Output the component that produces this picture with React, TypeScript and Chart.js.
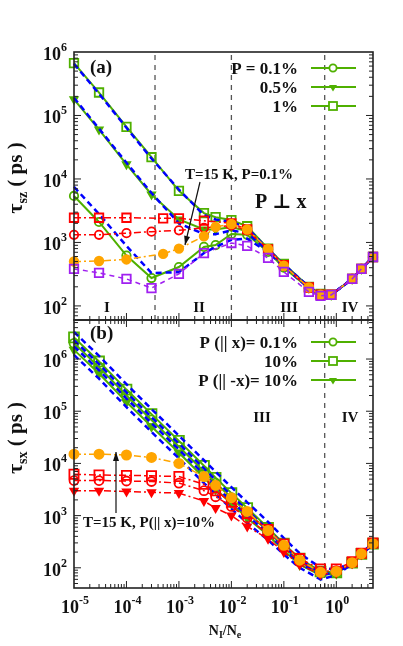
import React, { useEffect, useRef } from 'react';
import { Chart, registerables } from 'chart.js';
Chart.register(...registerables);

const FONT = "'Liberation Serif', 'DejaVu Serif', 'Times New Roman', serif";
const GREEN = '#4fb000';
const BLUE = '#0000ff';
const RED = '#ff0000';
const ORANGE = '#ffa500';
const PURPLE = '#a020f0';
const AXIS = '#222222';
const DIV = '#555555';

// ---------- Panel (a) data ----------
const xA = [1e-5, 3e-5, 1e-4, 3e-4, 1e-3, 3e-3, 5e-3, 1e-2, 2e-2, 5e-2, 0.1, 0.3, 0.5, 0.8, 2, 3, 5];
const greenSquareA = [6.7e5, 2.3e5, 6.6e4, 2.2e4, 6500, 2900, 2500, 2250, 1800, 800, 460, 200, 155, 150, 266, 383, 590];
const greenTriA = [1.8e5, 6.0e4, 1.7e4, 5700, 2300, 1600, 1600, 1750, 1500, 760, 445, 195, 150, 148, 266, 383, 590];
const greenCircA = [5400, 2100, 620, 275, 410, 850, 910, 1360, 1320, 710, 400, 190, 148, 150, 266, 383, 590];
const blueSquareA = [6.5e5, 2.2e5, 6.4e4, 2.1e4, 6800, 2700, 2300, 2100, 1700, 780, 450, 200, 155, 150, 266, 383, 590];
const blueTriA = [1.9e5, 6.2e4, 1.8e4, 6000, 2000, 1350, 1350, 1550, 1400, 740, 440, 195, 150, 150, 266, 383, 590];
const blueCircA = [7500, 2800, 880, 330, 340, 680, 850, 1100, 1150, 700, 420, 190, 150, 150, 262, 380, 590];
const xRedSqA = [1e-5, 3e-5, 1e-4, 5e-4, 1e-3, 3e-3, 1e-2, 2e-2, 5e-2, 0.1, 0.3, 0.5, 0.8, 2, 3, 5];
const redSqA = [2450, 2450, 2450, 2400, 2400, 2200, 2000, 1600, 780, 440, 195, 150, 150, 266, 383, 590];
const xRedCircA = [1e-5, 3e-5, 1e-4, 3e-4, 1e-3, 3e-3, 1e-2, 2e-2, 5e-2, 0.1, 0.3, 0.5, 0.8, 2, 3, 5];
const redCircA = [1320, 1320, 1400, 1480, 1550, 1700, 1850, 1550, 780, 430, 190, 150, 150, 266, 383, 590];
const xOrangeA = [1e-5, 3e-5, 1e-4, 5e-4, 1e-3, 3e-3, 5e-3, 1e-2, 2e-2, 5e-2, 0.1, 0.3, 0.5, 0.8, 2, 3, 5];
const orangeA = [500, 510, 540, 660, 800, 1250, 1750, 1950, 1600, 790, 430, 195, 150, 150, 266, 383, 590];
const xPurpleA = [1e-5, 3e-5, 1e-4, 3e-4, 1e-3, 3e-3, 1e-2, 2e-2, 5e-2, 0.1, 0.3, 0.5, 0.8, 2, 3, 5];
const purpleA = [383, 331, 266, 191, 320, 680, 980, 880, 570, 343, 166, 144, 149, 266, 383, 590];
const dividersA = [3.5e-4, 1e-2, 0.6];
const yRangeA = [60, 1e6];

// ---------- Panel (b) data ----------
const xB = [1e-5, 3e-5, 1e-4, 3e-4, 1e-3, 3e-3, 5e-3, 1e-2, 2e-2, 5e-2, 0.1, 0.2, 0.5, 1, 2, 3, 5];
const greenSquareB = [2.6e6, 9.0e5, 2.6e5, 8.8e4, 2.7e4, 9000, 5300, 2700, 1400, 580, 290, 150, 85, 82, 125, 185, 290];
const greenCircB = [2.0e6, 7.0e5, 2.0e5, 6.8e4, 2.1e4, 7000, 4200, 2200, 1150, 500, 250, 130, 78, 80, 125, 185, 290];
const greenTriB = [1.5e6, 5.3e5, 1.5e5, 5.1e4, 1.6e4, 5300, 3200, 1700, 900, 420, 215, 115, 72, 78, 125, 185, 290];
const blue1B = [3.3e6, 1.15e6, 3.3e5, 1.1e5, 3.4e4, 1.15e4, 6900, 3500, 1800, 760, 370, 190, 100, 92, 130, 190, 300];
const blue2B = [2.3e6, 8.0e5, 2.3e5, 7.7e4, 2.4e4, 8000, 4800, 2450, 1250, 540, 270, 140, 82, 84, 125, 185, 290];
const blue3B = [1.75e6, 6.1e5, 1.75e5, 5.9e4, 1.85e4, 6100, 3700, 1900, 1000, 450, 230, 122, 74, 80, 122, 182, 288];
const blue4B = [1.2e6, 4.2e5, 1.2e5, 4.0e4, 1.25e4, 4200, 2600, 1350, 720, 340, 180, 100, 60, 72, 118, 178, 285];
const orangeB = [1.5e4, 1.5e4, 1.45e4, 1.3e4, 1.0e4, 5600, 3800, 2200, 1200, 520, 270, 140, 82, 85, 125, 185, 290];
const redSqB = [6200, 6000, 5900, 5800, 5600, 4000, 3000, 1800, 1100, 540, 285, 150, 95, 95, 130, 190, 300];
const redCircB = [4700, 4700, 4600, 4500, 4200, 3000, 2300, 1500, 900, 450, 240, 130, 85, 88, 125, 185, 290];
const redTriB = [3000, 3000, 2900, 2800, 2700, 1900, 1400, 1000, 620, 360, 200, 115, 75, 80, 122, 182, 288];
const dividersB = [0.6];
const yRangeB = [41, 5.6e6];
const xRange = [1e-5, 5];

// ---------- helpers ----------
type Seg = { t: string; size: number; dy?: number };

const pts = (xs: number[], ys: number[]) => xs.map((x, i) => ({ x, y: ys[i] }));
const DASHDOT = [7, 3, 2, 3];

function greenDs(xs: number[], ys: number[], kind: 'circle' | 'rect' | 'tri', big = false) {
  return {
    data: pts(xs, ys),
    borderColor: GREEN,
    borderWidth: 2,
    pointStyle: kind === 'tri' ? 'triangle' : kind,
    rotation: kind === 'tri' ? 180 : 0,
    pointRotation: kind === 'tri' ? 180 : 0,
    pointRadius: kind === 'rect' ? (big ? 7 : 6) : big ? 4.5 : 4.2,
    pointBorderColor: GREEN,
    pointBackgroundColor: kind === 'tri' ? GREEN : 'rgba(0,0,0,0)',
    pointBorderWidth: 1.8,
    clip: false,
  };
}
function blueDs(xs: number[], ys: number[]) {
  return { data: pts(xs, ys), borderColor: BLUE, borderWidth: 2.5, borderDash: [6, 4], pointRadius: 0, clip: false };
}
function markDs(xs: number[], ys: number[], color: string, kind: 'circle' | 'rect' | 'tri', filled: boolean, dash: number[], r: number) {
  return {
    data: pts(xs, ys),
    borderColor: color,
    borderWidth: 1.5,
    borderDash: dash,
    pointStyle: kind === 'tri' ? 'triangle' : kind,
    pointRotation: kind === 'tri' ? 180 : 0,
    pointRadius: r,
    pointBorderColor: color,
    pointBackgroundColor: filled ? color : 'rgba(0,0,0,0)',
    pointBorderWidth: 1.8,
    clip: false,
  };
}
function dividerDs(v: number, yr: number[]) {
  return {
    data: [{ x: v, y: yr[0] }, { x: v, y: yr[1] }],
    borderColor: DIV,
    borderWidth: 1.3,
    borderDash: [5, 5],
    pointRadius: 0,
    clip: false,
  };
}

function segsWidth(ctx: CanvasRenderingContext2D, segs: Seg[]) {
  let w = 0;
  for (const s of segs) {
    ctx.font = `bold ${s.size}px ${FONT}`;
    w += ctx.measureText(s.t).width;
  }
  return w;
}
function drawSegs(ctx: CanvasRenderingContext2D, segs: Seg[], x: number, y: number, align: 'left' | 'center' | 'right') {
  const w = segsWidth(ctx, segs);
  let cx = align === 'left' ? x : align === 'center' ? x - w / 2 : x - w;
  ctx.textAlign = 'left';
  ctx.textBaseline = 'alphabetic';
  ctx.fillStyle = '#111';
  for (const s of segs) {
    ctx.font = `bold ${s.size}px ${FONT}`;
    ctx.fillText(s.t, cx, y + (s.dy || 0));
    cx += ctx.measureText(s.t).width;
  }
}
function seg(ctx: CanvasRenderingContext2D, x1: number, y1: number, x2: number, y2: number) {
  ctx.beginPath();
  ctx.moveTo(x1, y1);
  ctx.lineTo(x2, y2);
  ctx.stroke();
}
function arrow(ctx: CanvasRenderingContext2D, x1: number, y1: number, x2: number, y2: number) {
  ctx.strokeStyle = '#111';
  ctx.fillStyle = '#111';
  ctx.lineWidth = 1.2;
  ctx.setLineDash([]);
  seg(ctx, x1, y1, x2, y2);
  const a = Math.atan2(y2 - y1, x2 - x1);
  const L = 9, Wd = 3;
  ctx.beginPath();
  ctx.moveTo(x2, y2);
  ctx.lineTo(x2 - L * Math.cos(a) + Wd * Math.sin(a), y2 - L * Math.sin(a) - Wd * Math.cos(a));
  ctx.lineTo(x2 - L * Math.cos(a) - Wd * Math.sin(a), y2 - L * Math.sin(a) + Wd * Math.cos(a));
  ctx.closePath();
  ctx.fill();
}
const num = (m: number, d: number) => Number(`${m}e${d}`);

function drawAxes(chart: any, topTicks: boolean, xLabels: boolean) {
  const ctx: CanvasRenderingContext2D = chart.ctx;
  const a = chart.chartArea;
  const sx = chart.scales.x, sy = chart.scales.y;
  ctx.save();
  ctx.setLineDash([]);
  ctx.strokeStyle = AXIS;
  ctx.lineWidth = 1;
  for (let d = -6; d <= 1; d++) {
    for (let m = 1; m <= 9; m++) {
      const v = num(m, d);
      const px = sx.getPixelForValue(v);
      if (px < a.left + 0.5 || px > a.right - 0.5) continue;
      const L = m === 1 ? 7 : 4;
      seg(ctx, px, a.bottom, px, a.bottom - L);
      if (topTicks) seg(ctx, px, a.top, px, a.top + L);
    }
  }
  for (let d = 0; d <= 7; d++) {
    for (let m = 1; m <= 9; m++) {
      const v = num(m, d);
      const py = sy.getPixelForValue(v);
      if (py < a.top + 0.5 || py > a.bottom - 0.5) continue;
      const L = m === 1 ? 7 : 4;
      seg(ctx, a.left, py, a.left + L, py);
      seg(ctx, a.right, py, a.right - L, py);
    }
  }
  ctx.lineWidth = 1.6;
  ctx.strokeRect(a.left, a.top, a.right - a.left, a.bottom - a.top);
  // y labels
  for (let d = 0; d <= 7; d++) {
    const v = num(1, d);
    const py = sy.getPixelForValue(v);
    if (py < a.top - 1 || py > a.bottom + 1) continue;
    drawSegs(ctx, [{ t: '10', size: 18 }, { t: String(d), size: 12, dy: -9 }], a.left - 7, py + 8, 'right');
  }
  if (xLabels) {
    for (let d = -5; d <= 0; d++) {
      const v = num(1, d);
      const px = sx.getPixelForValue(v);
      drawSegs(ctx, [{ t: '10', size: 18 }, { t: String(d), size: 12, dy: -9 }], px + 1, a.bottom + 25, 'center');
    }
  }
  ctx.restore();
}

function drawYTitle(ctx: CanvasRenderingContext2D, sub: string, cx: number, cy: number) {
  ctx.save();
  ctx.translate(cx, cy);
  ctx.rotate(-Math.PI / 2);
  drawSegs(ctx, [{ t: 'τ', size: 22 }, { t: sub, size: 14, dy: 5 }, { t: ' ( ps )', size: 21 }], 0, 7, 'center');
  ctx.restore();
}

function legendMarker(ctx: CanvasRenderingContext2D, kind: string, x: number, y: number) {
  ctx.strokeStyle = GREEN;
  ctx.fillStyle = GREEN;
  ctx.lineWidth = 2;
  ctx.setLineDash([]);
  seg(ctx, x - 22, y, x + 23, y);
  ctx.lineWidth = 1.8;
  if (kind === 'circle') {
    ctx.beginPath();
    ctx.arc(x, y, 3.6, 0, Math.PI * 2);
    ctx.fillStyle = '#fff';
    ctx.fill();
    ctx.stroke();
  } else if (kind === 'rect') {
    ctx.fillStyle = '#fff';
    ctx.fillRect(x - 4, y - 4, 8, 8);
    ctx.strokeRect(x - 4, y - 4, 8, 8);
  } else {
    ctx.beginPath();
    ctx.moveTo(x - 4, y - 2);
    ctx.lineTo(x + 4, y - 2);
    ctx.lineTo(x, y + 4.5);
    ctx.closePath();
    ctx.fill();
  }
}

const annotA = {
  id: 'annotA',
  afterDraw(chart: any) {
    const ctx: CanvasRenderingContext2D = chart.ctx;
    drawAxes(chart, false, false);
    ctx.save();
    drawYTitle(ctx, 'sz', 15, 178);
    drawSegs(ctx, [{ t: '(a)', size: 19 }], 90, 73, 'left');
    const rows = [
      { t: 'P = 0.1%', y: 68, k: 'circle' },
      { t: '0.5%', y: 87, k: 'tri' },
      { t: '1%', y: 106, k: 'rect' },
    ];
    for (const r of rows) {
      drawSegs(ctx, [{ t: r.t, size: 17 }], 298, r.y + 6, 'right');
      legendMarker(ctx, r.k, 333, r.y);
    }
    drawSegs(ctx, [{ t: 'T=15 K, P=0.1%', size: 15 }], 185, 179, 'left');
    arrow(ctx, 200, 182, 185, 245);
    drawSegs(ctx, [{ t: 'P ⊥ x', size: 20 }], 255, 208, 'left');
    const romans = [
      { t: 'I', x: 107 },
      { t: 'II', x: 199 },
      { t: 'III', x: 289 },
      { t: 'IV', x: 350 },
    ];
    for (const r of romans) drawSegs(ctx, [{ t: r.t, size: 15 }], r.x, 312, 'center');
    ctx.restore();
  },
};

const annotB = {
  id: 'annotB',
  afterDraw(chart: any) {
    const ctx: CanvasRenderingContext2D = chart.ctx;
    drawAxes(chart, true, true);
    ctx.save();
    drawYTitle(ctx, 'sx', 15, 438);
    drawSegs(ctx, [{ t: '(b)', size: 19 }], 90, 339, 'left');
    const rows = [
      { t: 'P (|| x)= 0.1%', y: 342, k: 'circle' },
      { t: '10%', y: 361, k: 'rect' },
      { t: 'P (|| -x)= 10%', y: 380, k: 'tri' },
    ];
    for (const r of rows) {
      drawSegs(ctx, [{ t: r.t, size: 17 }], 298, r.y + 6, 'right');
      legendMarker(ctx, r.k, 333, r.y);
    }
    drawSegs(ctx, [{ t: 'T=15 K, P(|| x)=10%', size: 15 }], 83, 527, 'left');
    arrow(ctx, 116, 513, 116, 452);
    drawSegs(ctx, [{ t: 'III', size: 15 }], 262, 422, 'center');
    drawSegs(ctx, [{ t: 'IV', size: 15 }], 350, 422, 'center');
    drawSegs(
      ctx,
      [
        { t: 'N', size: 14 },
        { t: 'I', size: 10, dy: 3 },
        { t: '/N', size: 14 },
        { t: 'e', size: 10, dy: 3 },
      ],
      225,
      635,
      'center'
    );
    ctx.restore();
  },
};

function baseOptions(padding: any, yr: number[]) {
  return {
    animation: false as const,
    responsive: false,
    devicePixelRatio: 1,
    events: [] as any[],
    layout: { padding },
    plugins: { legend: { display: false }, tooltip: { enabled: false }, title: { display: false } },
    elements: { line: { tension: 0 } },
    scales: {
      x: { type: 'logarithmic' as const, min: xRange[0], max: xRange[1], display: false },
      y: { type: 'logarithmic' as const, min: yr[0], max: yr[1], display: false },
    },
  };
}

export default function App() {
  const refA = useRef<HTMLCanvasElement | null>(null);
  const refB = useRef<HTMLCanvasElement | null>(null);

  useEffect(() => {
    const dsA: any[] = [
      markDs(xPurpleA, purpleA, PURPLE, 'rect', false, [5, 4], 6),
      markDs(xOrangeA, orangeA, ORANGE, 'circle', true, DASHDOT, 4.3),
      markDs(xRedSqA, redSqA, RED, 'rect', false, DASHDOT, 6),
      markDs(xRedCircA, redCircA, RED, 'circle', false, DASHDOT, 4.2),
      blueDs(xA, blueSquareA),
      blueDs(xA, blueTriA),
      blueDs(xA, blueCircA),
      greenDs(xA, greenSquareA, 'rect'),
      greenDs(xA, greenTriA, 'tri'),
      greenDs(xA, greenCircA, 'circle'),
      ...dividersA.map((v) => dividerDs(v, yRangeA)),
    ];
    const dsB: any[] = [
      markDs(xB, orangeB, ORANGE, 'circle', true, DASHDOT, 4.6),
      markDs(xB, redSqB, RED, 'rect', false, DASHDOT, 6.5),
      markDs(xB, redCircB, RED, 'circle', false, DASHDOT, 4.5),
      markDs(xB, redTriB, RED, 'tri', true, DASHDOT, 4.2),
      blueDs(xB, blue1B),
      blueDs(xB, blue2B),
      blueDs(xB, blue3B),
      blueDs(xB, blue4B),
      greenDs(xB, greenSquareB, 'rect', true),
      greenDs(xB, greenCircB, 'circle', true),
      greenDs(xB, greenTriB, 'tri', true),
      ...dividersB.map((v) => dividerDs(v, yRangeB)),
    ];
    const cA = new Chart(refA.current as HTMLCanvasElement, {
      type: 'line',
      data: { datasets: dsA },
      options: baseOptions({ left: 74, top: 52, right: 30, bottom: 326 }, yRangeA) as any,
      plugins: [annotA],
    });
    const cB = new Chart(refB.current as HTMLCanvasElement, {
      type: 'line',
      data: { datasets: dsB },
      options: baseOptions({ left: 74, top: 320, right: 30, bottom: 58 }, yRangeB) as any,
      plugins: [annotB],
    });
    return () => {
      cA.destroy();
      cB.destroy();
    };
  }, []);

  return (
    <div style={{ position: 'absolute', left: 0, top: 0, width: 403, height: 646, background: '#fff' }}>
      <canvas ref={refB} width={403} height={646} style={{ position: 'absolute', left: 0, top: 0 }} />
      <canvas ref={refA} width={403} height={646} style={{ position: 'absolute', left: 0, top: 0 }} />
    </div>
  );
}
